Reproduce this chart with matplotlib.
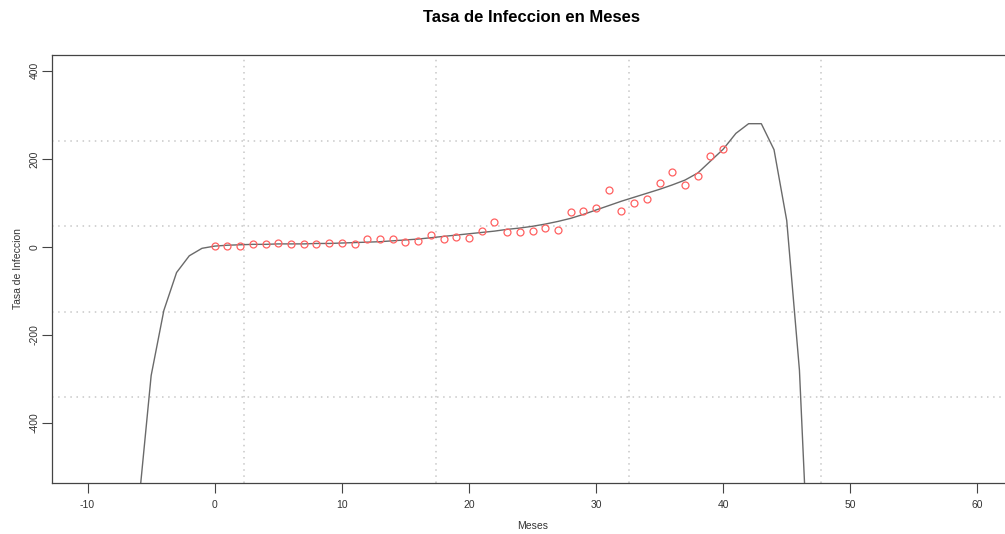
import numpy as np
import matplotlib
matplotlib.use("Agg")
import matplotlib.pyplot as plt

plt.rcParams['font.family'] = ['Liberation Sans', 'DejaVu Sans']
plt.rcParams['axes.unicode_minus'] = False

# observed monthly values (red circles)
meses = list(range(0, 41))
tasa = [2, 3, 3, 7, 7, 8, 7, 7, 7, 8, 8, 7, 17, 18, 17, 12, 13, 27, 17, 23,
        21, 36, 56, 34, 34, 37, 44, 38, 80, 82, 88, 130, 81, 99, 109, 146,
        171, 140, 162, 206, 223]

# fitted curve (grey line)
fit_x = list(range(-6, 48))
fit_y = [-590, -292, -144, -58, -20, -3,
         2, 4, 5, 6, 6, 7, 7, 7, 8, 8, 9, 10, 11, 12, 14, 16, 18, 21, 24, 27,
         30, 33, 36, 40, 43, 47, 52, 58, 65, 74, 84, 94, 104, 113, 122, 131,
         141, 152, 168, 195, 222, 258, 280, 280, 221, 60, -280, -920]

x_ticks = [-10, 0, 10, 20, 30, 40, 50, 60]
y_ticks = [-400, -200, 0, 200, 400]

fig = plt.figure(figsize=(10.05, 5.34), dpi=100)
ax = fig.add_axes([52 / 1005, 51 / 534, 961 / 1005, 428 / 534])

xlo, xhi = -12.8, 62.8
ylo, yhi = -536, 436
ax.set_xlim(xlo, xhi)
ax.set_ylim(ylo, yhi)

# grid(5, 5) style: equally spaced dotted lines
for gx in np.linspace(xlo, xhi, 6)[1:-1]:
    ax.axvline(gx, color='#c8c8c8', lw=1.1, ls=(0, (1, 3)), zorder=0)
for gy in np.linspace(ylo, yhi, 6)[1:-1]:
    ax.axhline(gy, color='#c8c8c8', lw=1.1, ls=(0, (1, 3)), zorder=0)

ax.plot(fit_x, fit_y, color='#6a6a6a', lw=1.0, zorder=2)
ax.plot(meses, tasa, ls='none', marker='o', markersize=5.0,
        markerfacecolor='none', markeredgecolor='#ff6060',
        markeredgewidth=0.9, zorder=3)

ax.set_xticks(x_ticks)
ax.set_yticks(y_ticks)
ax.set_xticklabels([str(v) for v in x_ticks])
ax.set_yticklabels([str(v) for v in y_ticks], rotation=90, va='center')
ax.tick_params(direction='out', length=7, width=0.8, color='#444444',
               labelsize=7.5, labelcolor='#333333', pad=5)
ax.tick_params(axis='y', pad=2)
for s in ax.spines.values():
    s.set_color('#444444')
    s.set_linewidth(0.9)

ax.set_xlabel('Meses', fontsize=7.5, color='#333333', labelpad=8)
ax.set_ylabel('Tasa de Infeccion', fontsize=7.5, color='#333333', labelpad=5)
fig.text(531 / 1005, 1 - 17 / 534, 'Tasa de Infeccion en Meses',
         ha='center', va='center', fontsize=12, fontweight='bold')

fig.savefig('out.png', dpi=100)
